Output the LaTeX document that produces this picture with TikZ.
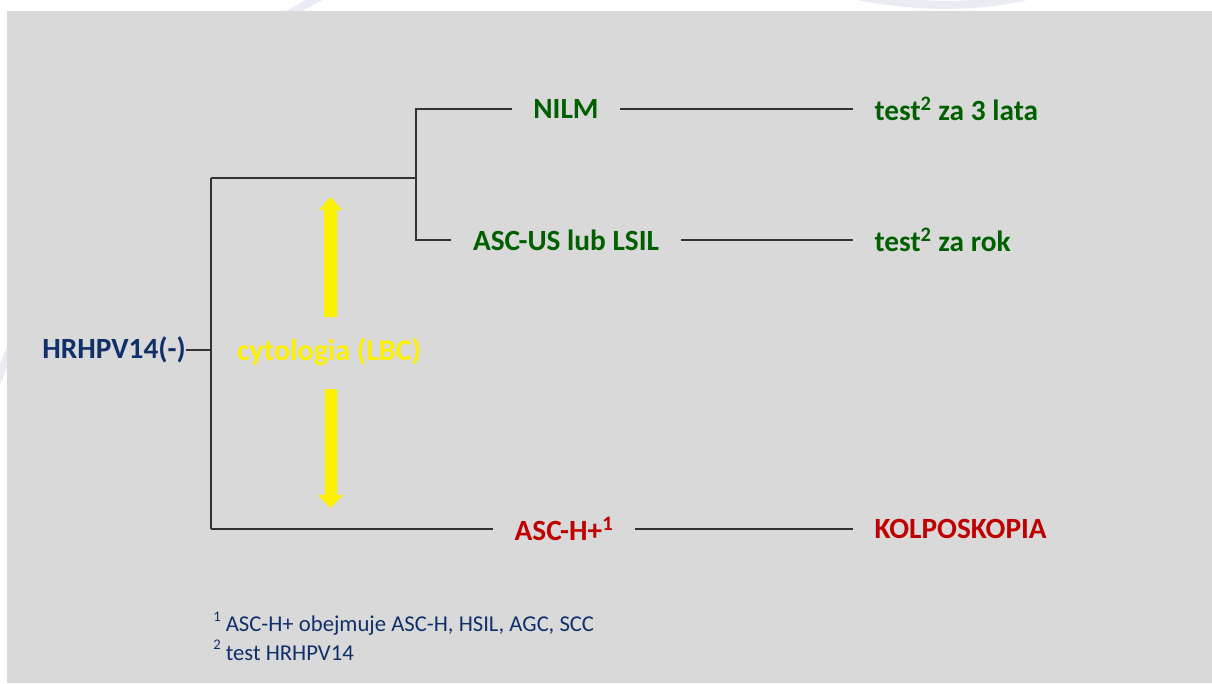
\documentclass[tikz,border=0pt]{standalone}
\usepackage{fontspec}
\setmainfont{Carlito}
\usepackage{tikz}
\usetikzlibrary{arrows.meta,positioning,calc}

\definecolor{panelgray}{HTML}{D9D9D9}
\definecolor{navytext}{HTML}{10306A}
\definecolor{greentext}{HTML}{006000}
\definecolor{redtext}{HTML}{C00000}
\definecolor{arcblue}{HTML}{E9EDF3}

\newcommand{\fnmark}[1]{\raisebox{0.45em}{\fontsize{11}{12}\selectfont #1}}

\begin{document}
\begin{tikzpicture}[
  x=0.75pt, y=-0.75pt,
  label/.style={inner xsep=16pt, inner ysep=2pt, font=\fontsize{22}{26}\selectfont\bfseries},
  okbox/.style={label, text=greentext},
  alertbox/.style={label, text=redtext},
  branch/.style={line width=0.8pt, black!80},
  bigarrow/.style={draw=none, fill=yellow},
  note/.style={inner sep=0pt, anchor=west, text=navytext, font=\fontsize{17}{20}\selectfont}
]

\useasboundingbox (0,0) rectangle (1212,683);

% Slide background
\draw[arcblue, line width=6pt] (-60,560) .. controls (20,250) and (150,60) .. (380,-30);
\draw[arcblue, line width=6pt] (760,-30) .. controls (850,0) and (950,20) .. (1050,-10);
\fill[panelgray] (7,11) rectangle (1212,683);

% Start
\node[label, text=navytext, inner xsep=0pt] (hrhpv) at (114,350) {HRHPV14(-)};

% Cytology label with arrows
\node[inner sep=0pt, text=yellow, font=\fontsize{22.5}{26}\selectfont\bfseries] (cyto) at (329,352) {cytologia (LBC)};
\fill[bigarrow] (324,317) -- (324,210) -- (319,210) -- (330.5,197) -- (342,210) -- (337,210) -- (337,317) -- cycle;
\fill[bigarrow] (325,389) -- (325,495) -- (318,495) -- (330.5,508) -- (343,495) -- (337,495) -- (337,389) -- cycle;

% Results
\node[okbox] (nilm) at (566,109) {NILM};
\node[okbox] (ascus) at (566,240) {ASC-US lub LSIL};
\node[alertbox] (asch) at (564,529) {ASC-H+\textsuperscript{1}};

% Actions
\node[okbox, anchor=west] (test3) at (853,109) {test\textsuperscript{2} za 3 lata};
\node[okbox, anchor=west] (testrok) at (853,240) {test\textsuperscript{2} za rok};
\node[alertbox, anchor=west] (kolpo) at (853,529) {KOLPOSKOPIA};

% Tree
\coordinate (split) at (211,350);
\coordinate (top) at (211,178);
\coordinate (bottom) at (211,529);
\coordinate (split2) at (416,178);
\draw[branch] (hrhpv.east) -- (split);
\draw[branch] (top) -- (bottom);
\draw[branch] (top) -- (split2);
\draw[branch] (split2) |- (nilm.west);
\draw[branch] (split2) |- (ascus.west);
\draw[branch] (bottom) -- (asch.west);
\draw[branch] (nilm.east) -- (test3.west);
\draw[branch] (ascus.east) -- (testrok.west);
\draw[branch] (asch.east) -- (kolpo.west);

% Footnotes
\node[note] (note1) at (213,624) {\fnmark{1} ASC-H+ obejmuje ASC-H, HSIL, AGC, SCC};
\node[note, below=3pt of note1.south west, anchor=north west] (note2) {\fnmark{2} test HRHPV14};

\end{tikzpicture}
\end{document}
